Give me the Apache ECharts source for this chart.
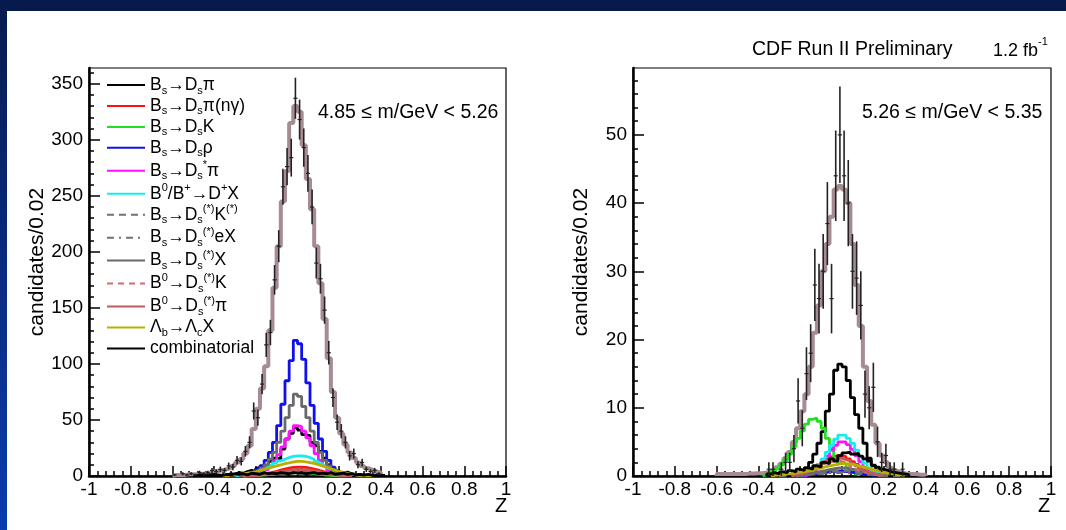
<!DOCTYPE html>
<html><head><meta charset="utf-8">
<script src="https://cdn.jsdelivr.net/npm/echarts@6/dist/echarts.min.js"></script>
<style>html,body{margin:0;padding:0;background:#fff}#c{width:1066px;height:530px}</style>
</head><body><div id="c"></div>
<script>
// ---------------- DATA ----------------
const BIN = 0.02;
const xTickLabels = ['-1','-0.8','-0.6','-0.4','-0.2','0','0.2','0.4','0.6','0.8','1'];
const yTicksLeft = [0,50,100,150,200,250,300,350];
const yMinorLeft = [0,10,20,30,40,50,60,70,80,90,100,110,120,130,140,150,160,170,180,190,200,210,220,230,240,250,260,270,280,290,300,310,320,330,340,350,360];
const yTicksRight = [0,10,20,30,40,50];
const yMinorRight = [0,2,4,6,8,10,12,14,16,18,20,22,24,26,28,30,32,34,36,38,40,42,44,46,48,50,52,54,56,58];

// left panel (4.85 <= m < 5.26), histograms: first bin low edge + bin contents
const L_total_start = -0.60;
const L_total = [1,1,1,1.5,1.5,1.5,2,2,2.5,4, 4.5,5,6,7,9,12,15,20,27,42, 60,78,98,130,168,205,245,272,315,330, 325,295,265,238,205,172,140,105,75,52, 38,28,21,16,12,9,7,5.5,4,3];
const L_data_start = -0.60;
const L_data = [1,0,2,1,2,1,3,2,3,5, 4,6,5,9,8,14,13,22,30,58, 52,82,117,128,175,205,258,276,284,337, 318,293,270,240,190,176,148,110,70,48, 40,30,18,20,10,12,6,4,5,2];
const L_BsDspi = [1,2,1.5,3,2.5,4,5,4,7,9, 8,13,16,15,24,33,38,43,41,37, 36,30,27,22,16,10,7,5,3,3.5, 2,1.5,1,0.5];
const L_BsDspiNg = [0.3,0.5,0.8,1.2,1.8,2.5,3.3,4.2,5.2,6.2, 7,7.6,8,8,7.6,7,6.2,5.2,4.2,3.2, 2.4,1.7,1.1,0.7,0.4,0.2];
const L_BsDsK = [0.2,0.3,0.5,0.7,0.9,1.2,1.5,1.8,2.2,2.5, 2.8,3,3,2.9,2.7,2.4,2,1.6,1.2,0.9, 0.6,0.4,0.2,0.1,0.1];
const L_BsDsrho = [0.5,1,1.5,2.5,4,6,9,14,21,30, 45,64,85,103,121,118,104,83,63,47, 33,22,14,8,4,2,1];
const L_BsDsstpi = [1,2,3.5,5.5,8.5,13,19,26,33,40, 45,44,40,34,27,20,14,9,5.5,3, 1.5,0.8];
const L_B0DpX = [0.5,0.8,1.2,2,3,4,5.5,7.5,9.5,11.5, 13.5,15,16.5,17.5,18,18,17.5,16.5,15,13, 11,9,7,5,3.5,2.2,1.3,0.7];
const L_BsDsKst = [0.2,0.3,0.4,0.6,0.9,1.2,1.6,2,2.4,2.8, 3.1,3.4,3.5,3.5,3.3,3,2.6,2.2,1.8,1.4, 1,0.7,0.5,0.3,0.2,0.1];
const L_BsDseX = [0.2,0.3,0.4,0.5,0.6,0.7,0.8,0.9,1,1.2, 1.3,1.4,1.6,1.7,1.8,1.9,2,2,2,1.9, 1.8,1.7,1.5,1.3,1.2,1,0.9,0.7,0.6,0.5, 0.4,0.3,0.2,0.2,0.1,0.1];
const L_BsDsX = [1,1.5,2,3,4.5,7,10,15,21,30, 40,52,63,73,71,62,52,40,30,21, 14,9,5.5,3,1.5,1];
const L_B0DsK = [0.2,0.3,0.5,0.7,1,1.4,1.9,2.4,2.9,3.5, 3.9,4.3,4.5,4.5,4.3,3.9,3.4,2.9,2.4,1.8, 1.3,0.9,0.6,0.4,0.2,0.1];
const L_B0Dspi = [0.2,0.4,0.6,0.9,1.4,1.9,2.5,3.2,3.9,4.6, 5.2,5.7,6,6,5.7,5.2,4.6,3.9,3.2,2.4, 1.8,1.3,0.8,0.5,0.3,0.2];
const L_LbLcX = [0.5,0.7,1,1.4,1.9,2.5,3.2,4,5,6, 7,8,9,10,11,11.8,12.5,13,13,12.6, 12,11.2,10.2,9,7.8,6.5,5.3,4.2,3.2,2.4, 1.7,1.2,0.8,0.5,0.3,0.2];
const L_comb = [0.5,1,0.5,1,1.5,1,0.5,1.5,1,2, 1.5,2,1,2.5,2,1.5,3,2,2.5,2, 3,2.5,2,3,2.5,3,2,2.5,3,2, 2.5,2,3,1.5,2,2.5,1.5,2,1,1.5, 1,1.5,0.5,1,0.5,0.5];

// right panel (5.26 <= m < 5.35)
const R_total_start = -0.60;
const R_total = [0.3,0.3,0.3,0.3,0.3,0.3,0.3,0.35,0.35,0.4, 0.4,0.5,0.7,0.9,1.3,1.8,2.6,3.5,5,7, 9.5,12,16,21,25,30,34,38,42,42.5, 42,40,34,28,22,16,11,7.5,4.8,3, 2,1.2,0.8,0.6,0.4,0.3,0.3,0.25,0.2,0.2];
const R_data_start = -0.40;
const R_data = [0,0,1,1,0,1,2,2,4,11, 7,15,18,28,26,30,37,26,44,50, 44,40,30,29,25,12,10,13,5,2, 3,1,1,0,1,0,0,0,0,0];
const R_BsDspi = [0.2,0.3,0.5,0.8,1.2,2,3.2,4.8,6.5,9.5, 12,15.5,16.4,16,14,11.5,9,7,4.8,2.6, 1.5,0.9,0.5,0.3,0.2];
const R_BsDspiNg = [0.2,0.3,0.5,0.7,1,1.3,1.7,2.1,2.5,2.8, 3,3,2.8,2.5,2.1,1.7,1.3,0.9,0.6,0.4, 0.2,0.1];
const R_BsDsK = [0.2,0.4,0.7,1,1.6,2.3,3.2,4.3,5.5,6.6, 7.6,8.3,8.5,8,7,5.5,4,2.6,1.8,1.8, 1.2,0.6,0.3];
const R_BsDsrho = [0.1,0.15,0.2,0.3,0.4,0.5,0.6,0.65,0.7,0.7, 0.65,0.6,0.5,0.4,0.3,0.2,0.15,0.1];
const R_BsDsstpi = [0.2,0.4,0.8,1.3,2,2.9,3.8,4.5,5,5, 4.6,3.9,3,2.1,1.3,0.7,0.4,0.2];
const R_B0DpX = [0.2,0.4,0.7,1.1,1.7,2.5,3.5,4.5,5.4,6, 6,5.5,4.8,3.8,2.8,1.9,1.2,0.7,0.4,0.2];
const R_BsDsKst = [0.1,0.1,0.2,0.3,0.35,0.45,0.55,0.6,0.7,0.75, 0.8,0.75,0.7,0.6,0.5,0.4,0.3,0.2,0.15,0.1, 0.05,0.05];
const R_BsDseX = [0.05,0.1,0.1,0.15,0.2,0.2,0.25,0.3,0.35,0.4, 0.4,0.45,0.5,0.5,0.5,0.5,0.45,0.45,0.4,0.35, 0.3,0.25,0.2,0.15,0.15,0.1,0.1,0.05,0.05,0.05];
const R_BsDsX = [0.1,0.2,0.3,0.4,0.5,0.7,0.8,0.95,1.05,1.15, 1.2,1.15,1.05,0.95,0.8,0.65,0.5,0.35,0.25,0.15, 0.1,0.05];
const R_B0DsK = [0.2,0.3,0.5,0.7,0.9,1.2,1.5,1.8,2,2.2, 2.2,2.1,1.9,1.6,1.3,1,0.7,0.5,0.3,0.2, 0.1,0.1];
const R_B0Dspi = [0.2,0.3,0.4,0.6,0.9,1.2,1.5,1.8,2.2,2.4, 2.6,2.6,2.4,2.2,1.8,1.5,1.1,0.8,0.5,0.3, 0.2,0.1];
const R_LbLcX = [0.1,0.15,0.2,0.3,0.35,0.45,0.55,0.65,0.8,0.9, 1.05,1.2,1.35,1.5,1.6,1.7,1.8,1.8,1.75,1.65, 1.5,1.35,1.2,1,0.85,0.7,0.55,0.4,0.3,0.2, 0.15,0.1];
const R_comb = [0.3,0.5,0.3,0.6,0.5,0.8,0.6,1,0.8,1.2, 1,1.5,1.3,2,1.8,2.5,2.2,3,3.4,3.5, 3.2,3.3,2.9,2.5,2.2,1.6,1.3,1,0.8,0.6, 0.5,0.4,0.3,0.2];

// components: name, legend label (rich), style, [left start, left values], [right start, right values]
const components = [
  {name:'Bs→Dsπ', label:'{n|B}{sb|s}{n|→D}{sb|s}{n|π}', color:'#000000', width:2.8, type:'solid', L:[-0.36, L_BsDspi], R:[-0.26, R_BsDspi]},
  {name:'Bs→Dsπ(nγ)', label:'{n|B}{sb|s}{n|→D}{sb|s}{n|π(nγ)}', color:'#ff1010', width:2.8, type:'solid', L:[-0.26, L_BsDspiNg], R:[-0.24, R_BsDspiNg]},
  {name:'Bs→DsK', label:'{n|B}{sb|s}{n|→D}{sb|s}{n|K}', color:'#20e020', width:2.8, type:'solid', L:[-0.26, L_BsDsK], R:[-0.38, R_BsDsK]},
  {name:'Bs→Dsρ', label:'{n|B}{sb|s}{n|→D}{sb|s}{n|ρ}', color:'#1010ee', width:2.8, type:'solid', L:[-0.30, L_BsDsrho], R:[-0.20, R_BsDsrho]},
  {name:'Bs→Ds*π', label:'{n|B}{sb|s}{n|→D}{sb|s}{sp|*}{n|π}', color:'#ff10ff', width:2.8, type:'solid', L:[-0.22, L_BsDsstpi], R:[-0.18, R_BsDsstpi]},
  {name:'B0/B+→D+X', label:'{n|B}{sp|0}{n|/B}{sp|+}{n|→D}{sp|+}{n|X}', color:'#10eeee', width:2.8, type:'solid', L:[-0.30, L_B0DpX], R:[-0.20, R_B0DpX]},
  {name:'Bs→Ds(*)K(*)', label:'{n|B}{sb|s}{n|→D}{sb|s}{sp|(*)}{n|K}{sp|(*)}', color:'#707070', width:2.8, type:[7,5], L:[-0.26, L_BsDsKst], R:[-0.22, R_BsDsKst]},
  {name:'Bs→Ds(*)eX', label:'{n|B}{sb|s}{n|→D}{sb|s}{sp|(*)}{n|eX}', color:'#707070', width:2.8, type:[7,5,2,5], L:[-0.36, L_BsDseX], R:[-0.30, R_BsDseX]},
  {name:'Bs→Ds(*)X', label:'{n|B}{sb|s}{n|→D}{sb|s}{sp|(*)}{n|X}', color:'#6a6a6a', width:2.8, type:'solid', L:[-0.28, L_BsDsX], R:[-0.22, R_BsDsX]},
  {name:'B0→Ds(*)K', label:'{n|B}{sp|0}{n|→D}{sb|s}{sp|(*)}{n|K}', color:'#d86a6a', width:2.8, type:[6,5], L:[-0.26, L_B0DsK], R:[-0.24, R_B0DsK]},
  {name:'B0→Ds(*)π', label:'{n|B}{sp|0}{n|→D}{sb|s}{sp|(*)}{n|π}', color:'#c05a5a', width:2.8, type:'solid', L:[-0.26, L_B0Dspi], R:[-0.24, R_B0Dspi]},
  {name:'Λb→ΛcX', label:'{n|Λ}{sb|b}{n|→Λ}{sb|c}{n|X}', color:'#b8b000', width:2.8, type:'solid', L:[-0.36, L_LbLcX], R:[-0.34, R_LbLcX]},
  {name:'combinatorial', label:'{n|combinatorial}', color:'#000000', width:2.8, type:'solid', L:[-0.50, L_comb], R:[-0.36, R_comb]}
];

// ---------------- BUILD ----------------
const r4 = v => Math.round(v*10000)/10000;
function stepData(start, vals){
  const pts = [[r4(start), 0]];
  vals.forEach((v,i)=>pts.push([r4(start+i*BIN), v]));
  const end = r4(start+vals.length*BIN);
  pts.push([end, vals[vals.length-1]]);
  pts.push([end, 0]);
  return pts;
}
function pointData(start, vals){
  const out = [];
  vals.forEach((v,i)=>{ if (v>0) out.push([r4(start+(i+0.5)*BIN), v, Math.sqrt(v)]); });
  return out;
}
function histSeries(name, grid, start, vals, color, width, type, z){
  return {name, type:'line', xAxisIndex:grid, yAxisIndex:grid*2, data:stepData(start, vals), step:'end',
    symbol:'none', lineStyle:{color, width, type}, itemStyle:{color}, z:z||3, silent:true, clip:true};
}
function errSeries(grid, start, vals){
  return {type:'custom', xAxisIndex:grid, yAxisIndex:grid*2, data:pointData(start, vals), z:6, silent:true, clip:true,
    renderItem(params, api){
      const x = api.value(0), y = api.value(1), e = api.value(2);
      const t = api.coord([x, y+e]), b = api.coord([x, Math.max(0, y-e)]);
      const l = api.coord([x-BIN/2, y]), r = api.coord([x+BIN/2, y]);
      return {type:'group', children:[
        {type:'line', shape:{x1:t[0],y1:t[1],x2:b[0],y2:b[1]}, style:{stroke:'#222', lineWidth:1.6}},
        {type:'line', shape:{x1:l[0],y1:l[1],x2:r[0],y2:r[1]}, style:{stroke:'#222', lineWidth:1.2}}
      ]};
    }};
}

const FONT = 'Liberation Sans';
const series = [];
series.push(histSeries('total', 0, L_total_start, L_total, '#a68c91', 4, 'solid', 2));
series.push(histSeries('total', 1, R_total_start, R_total, '#a68c91', 4, 'solid', 2));
components.forEach(c=>{
  series.push(histSeries(c.name, 0, c.L[0], c.L[1], c.color, c.width, c.type));
  series.push(histSeries(c.name, 1, c.R[0], c.R[1], c.color, c.width, c.type));
});
series.push(errSeries(0, L_data_start, L_data));
series.push(errSeries(1, R_data_start, R_data));

const grids = [
  {left:89, top:68, width:417, height:408},
  {left:633, top:68, width:418, height:408}
];
function xAx(g){
  return {type:'value', gridIndex:g, min:-1, max:1, interval:0.2,
    axisLine:{show:true, onZero:false, lineStyle:{color:'#000', width:2.5}},
    axisTick:{show:true, inside:true, length:10, lineStyle:{color:'#000', width:1.5}},
    minorTick:{show:true, splitNumber:5, length:5, lineStyle:{color:'#000', width:1.5}},
    splitLine:{show:false}, minorSplitLine:{show:false},
    axisLabel:{show:true, color:'#000', fontSize:19, fontFamily:FONT, margin:4,
      formatter:v=>xTickLabels[Math.round((v+1)/0.2)]}};
}
function yMajor(g, max, ticks){
  return {type:'value', gridIndex:g, min:0, max, position:'left',
    name:'candidates/0.02', nameLocation:'middle', nameGap:41, nameRotate:90,
    nameTextStyle:{color:'#000', fontSize:21, fontFamily:FONT, padding:[0,0,0,20]},
    axisLine:{show:true, onZero:false, lineStyle:{color:'#000', width:2.5}},
    axisTick:{show:true, inside:true, length:11, customValues:ticks, lineStyle:{color:'#000', width:1.5}},
    axisLabel:{show:true, customValues:ticks, color:'#000', fontSize:19, fontFamily:FONT, margin:6},
    splitLine:{show:false}};
}
function yMinor(g, max, ticks){
  return {type:'value', gridIndex:g, min:0, max, position:'left',
    axisLine:{show:false, onZero:false},
    axisTick:{show:true, inside:true, length:5, customValues:ticks, lineStyle:{color:'#000', width:1.5}},
    axisLabel:{show:false}, splitLine:{show:false}};
}

const legendData = components.map(c=>c.name);
const labelMap = {}; components.forEach(c=>labelMap[c.name]=c.label);

const option = {
  animation:false,
  backgroundColor:'#ffffff',
  grid: grids.map(g=>Object.assign({show:true, borderColor:'#000', borderWidth:1.2, backgroundColor:'transparent'}, g)),
  xAxis:[xAx(0), xAx(1)],
  yAxis:[yMajor(0, 364, yTicksLeft), yMinor(0, 364, yMinorLeft), yMajor(1, 59.8, yTicksRight), yMinor(1, 59.8, yMinorRight)],
  legend:{
    data:legendData, orient:'vertical', left:106, top:76, itemWidth:38, itemHeight:14, itemGap:0.95,
    selectedMode:false, padding:0,
    itemStyle:{opacity:0, borderWidth:0},
    formatter:name=>labelMap[name],
    textStyle:{color:'#000', fontFamily:FONT, fontSize:17.5,
      rich:{
        n:{fontSize:17.5, fontFamily:FONT, color:'#000', lineHeight:22, verticalAlign:'middle'},
        sb:{fontSize:11, fontFamily:FONT, color:'#000', lineHeight:10, verticalAlign:'bottom'},
        sp:{fontSize:11, fontFamily:FONT, color:'#000', lineHeight:10, verticalAlign:'top'}
      }}
  },
  graphic:[
    {type:'rect', shape:{x:0,y:0,width:1066,height:11}, style:{fill:'#071a4e'}, silent:true, z:100},
    {type:'rect', shape:{x:0,y:0,width:7,height:530}, style:{fill:new echarts.graphic.LinearGradient(0,0,0,1,[{offset:0,color:'#071a4e'},{offset:1,color:'#0a3cae'}])}, silent:true, z:100},
    {type:'text', left:318, top:103, style:{text:'4.85 ≤ m/GeV < 5.26', fill:'#000', font:'19.5px "Liberation Sans"'}, z:50},
    {type:'text', left:862, top:103, style:{text:'5.26 ≤ m/GeV < 5.35', fill:'#000', font:'19.5px "Liberation Sans"'}, z:50},
    {type:'text', left:752, top:40, style:{text:'CDF Run II Preliminary', fill:'#000', font:'19.5px "Liberation Sans"'}, z:50},
    {type:'text', left:993, top:36, style:{text:'{n|1.2 fb}{sp|-1}', rich:{n:{fontSize:18, fontFamily:FONT, fill:'#000', lineHeight:24, verticalAlign:'bottom'}, sp:{fontSize:11, fontFamily:FONT, fill:'#000', lineHeight:12, verticalAlign:'top'}}}, z:50},
    {type:'text', left:495, top:496, style:{text:'Z', fill:'#000', font:'20px "Liberation Sans"'}, z:50},
    {type:'text', left:1038, top:496, style:{text:'Z', fill:'#000', font:'20px "Liberation Sans"'}, z:50}
  ],
  series
};
const chart = echarts.init(document.getElementById('c'), null, {renderer:'canvas'});
chart.setOption(option);
</script>
</body></html>
